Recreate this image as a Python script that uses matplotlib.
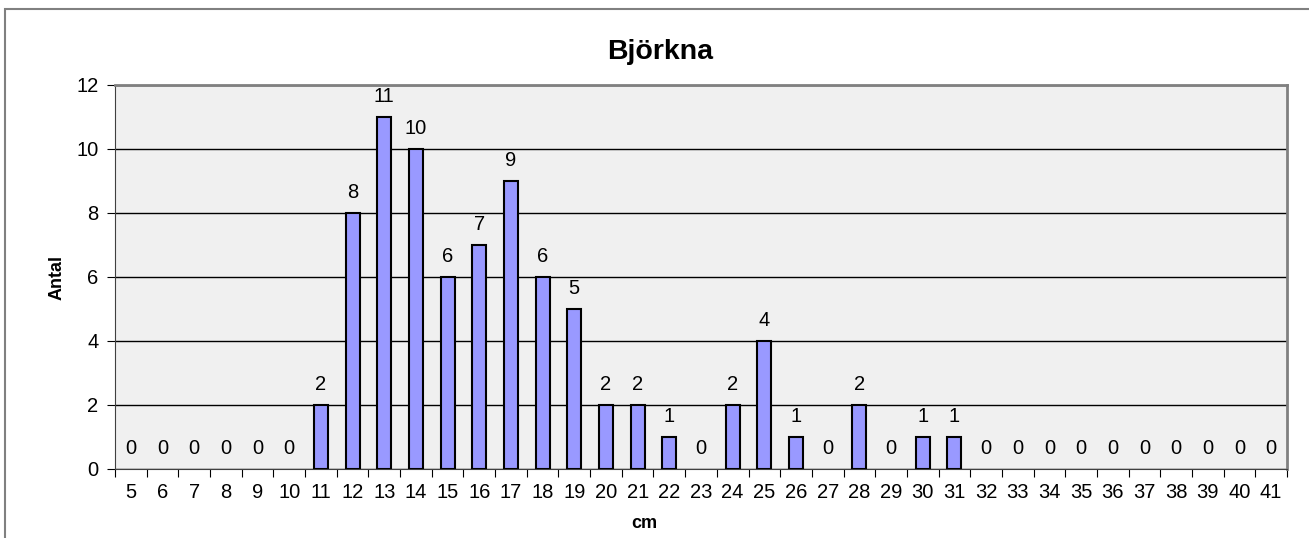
import matplotlib
matplotlib.use("Agg")
import matplotlib.pyplot as plt
from matplotlib.patches import Rectangle

plt.rcParams['font.family'] = ['Liberation Sans', 'DejaVu Sans']

# data
cm = list(range(5, 42))
antal = [0, 0, 0, 0, 0, 0, 2, 8, 11, 10, 6, 7, 9, 6, 5, 2, 2, 1, 0, 2, 4, 1, 0, 2, 0, 1, 1,
         0, 0, 0, 0, 0, 0, 0, 0, 0, 0]

fig = plt.figure(figsize=(13.09, 5.38), dpi=100)
ax = fig.add_axes([115 / 1309, 1 - 469 / 538, (1287 - 115) / 1309, (469 - 85) / 538])

# outer chart border
fig.patches.append(Rectangle((5 / 1309, -0.1), 1.1, 1.1 - 9 / 538, transform=fig.transFigure,
                             fill=False, edgecolor='#808080', linewidth=1.5))

ax.set_facecolor('#F0F0F0')
x = list(range(len(cm)))
bars = ax.bar(x, antal, width=0.44, color='#9999FF', edgecolor='black', linewidth=1.5, zorder=3)
for b, v in zip(bars, antal):
    if v == 0:
        b.set_linewidth(0)

for xi, v in zip(x, antal):
    ax.annotate(str(v), (xi, v), xytext=(0, 8), textcoords='offset points',
                ha='center', va='bottom', fontsize=14.5)

ax.set_xlim(-0.5, len(cm) - 0.5)
ax.set_ylim(0, 12)
ax.set_yticks(range(0, 13, 2))
ax.yaxis.grid(True, color='black', linewidth=1, zorder=1)
ax.set_axisbelow(True)

# ticks between categories, labels centred
ax.set_xticks([i - 0.5 for i in range(len(cm) + 1)])
ax.set_xticklabels([])
ax.set_xticks(x, minor=True)
ax.set_xticklabels([str(c) for c in cm], minor=True, fontsize=14.5)
ax.tick_params(axis='x', which='major', length=6, direction='out', color='black')
ax.tick_params(axis='x', which='minor', length=0, pad=10)
ax.tick_params(axis='y', length=6, direction='out', labelsize=14.5, pad=6)

for side in ['top', 'right']:
    ax.spines[side].set_color('#808080')
    ax.spines[side].set_linewidth(2)
ax.spines['left'].set_color('#404040')
ax.spines['bottom'].set_color('#404040')

fig.text(660 / 1309, 1 - 52 / 538, 'Björkna', fontsize=20.5, fontweight='bold',
         ha='center', va='center')
fig.text(57 / 1309, 1 - 277 / 538, 'Antal', fontsize=13, fontweight='bold',
         ha='center', va='center', rotation=90)
fig.text(644 / 1309, 1 - 523 / 538, 'cm', fontsize=13, fontweight='bold',
         ha='center', va='center')

fig.savefig('out.png', dpi=100)
